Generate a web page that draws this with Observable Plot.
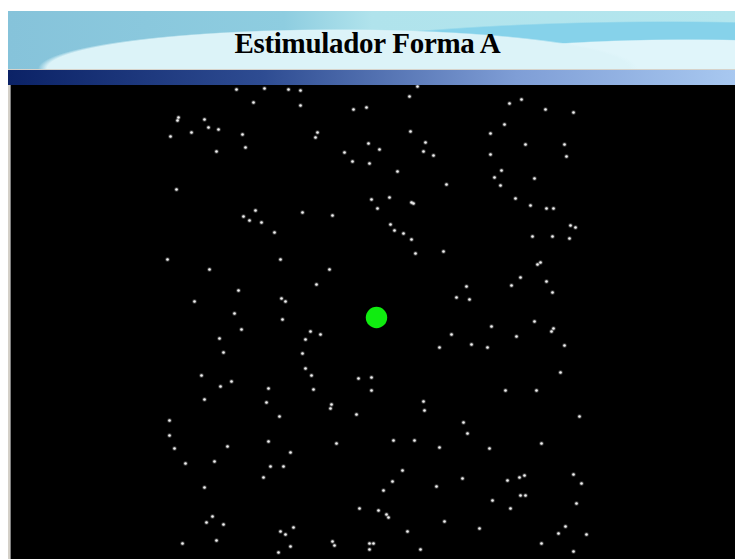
<!DOCTYPE html>
<html>
<head>
<meta charset="utf-8">
<script src="https://cdn.jsdelivr.net/npm/d3@7"></script>
<script src="https://cdn.jsdelivr.net/npm/@observablehq/plot@0.6"></script>
<style>
  html, body { margin: 0; padding: 0; background: #fff; }
  #page { position: relative; width: 735px; height: 559px; overflow: hidden; background: #fff; }
  #header {
    position: absolute; left: 8px; top: 11px; width: 727px; height: 58px;
    background:
      radial-gradient(ellipse 300px 40px at 330px 100%, #dcf3f8 0 97%, rgba(220,243,248,0) 100%),
      radial-gradient(ellipse 260px 30px at 680px 100%, #e0f5fa 0 96%, rgba(224,245,250,0) 100%),
      radial-gradient(ellipse 420px 48px at 660px 100%, #86d2ea 0 97%, rgba(134,210,234,0) 100%),
      linear-gradient(to right, #86c3da 0%, #8ecde0 38%, #b0e3ec 50%, #b4e6ee 100%);
  }
  #title {
    position: absolute; left: 0; top: 29px; width: 735px; text-align: center;
    font-family: "Liberation Serif", "Times New Roman", serif; font-weight: bold;
    font-size: 29px; line-height: 29px; color: #000; letter-spacing: -0.3px;
  }
  #titlebar {
    position: absolute; left: 8px; top: 69px; width: 727px; height: 15px;
    border-top: 1px solid #d6d2ca;
    background: linear-gradient(to right, #0b2266 0%, #2e4c92 35%, #7f9ed6 70%, #a8c8f0 100%);
  }
  #frame { position: absolute; left: 8px; top: 85px; width: 3px; height: 474px; background: #d4d0c8; border-right: 1px solid #808080; box-sizing: border-box; }
  #chart { position: absolute; left: 11px; top: 85px; width: 724px; height: 474px; background: #000; }
</style>
</head>
<body>
<div id="page">
  <div id="header"></div>
  <div id="title">Estimulador Forma A</div>
  <div id="titlebar"></div>
  <div id="frame"></div>
  <div id="chart"></div>
</div>
<script>
// Star-field stimulus: positions of the white dots (screen px)
const dotX = [
  236,264,288,300,253,300,353,366,178,177,204,208,218,191,170,242,317,315,216,245,368,379,344,352,369,397,176,371,389,377,255,243,249,261,302,332,390,394,274,280,167,
  417,409,509,521,545,573,410,504,490,425,423,433,525,564,490,566,501,494,534,500,446,411,413,515,530,546,553,570,575,403,411,532,552,569,415,443,
  209,329,316,238,194,281,285,234,282,241,219,310,320,305,223,302,305,201,311,231,220,268,313,358,371,371,204,266,331,330,
  540,537,520,466,511,546,552,456,469,534,553,551,491,516,451,471,487,439,564,560,505,536,423,424,
  356,279,169,169,174,227,268,290,336,393,185,214,270,283,263,204,392,383,359,378,386,388,212,206,223,293,280,285,182,216,332,334,369,373,369,290,278,
  579,463,467,414,439,489,541,402,462,436,507,519,524,573,581,492,520,525,510,576,444,479,407,565,558,586,541,420,573
];
const dotY = [
  89,88,89,90,102,105,109,107,117,120,119,127,129,132,136,134,132,137,151,147,143,149,152,161,163,171,189,199,197,208,210,216,220,222,212,215,224,230,232,259,259,
  86,96,103,99,109,112,131,124,133,142,151,155,144,144,154,156,170,177,178,185,184,202,203,198,205,208,208,225,227,233,239,236,236,238,253,251,
  269,269,284,290,301,298,301,313,319,329,338,331,334,339,352,353,368,375,375,381,386,388,389,378,377,390,399,402,404,408,
  262,264,277,286,285,281,292,297,299,321,328,331,326,336,334,344,347,347,345,372,390,390,401,410,
  414,416,420,435,448,446,441,452,443,440,463,461,466,466,477,487,481,490,508,510,514,517,516,522,524,527,531,534,543,540,541,545,543,543,549,546,552,
  416,422,433,440,447,448,443,470,478,486,480,477,475,474,483,500,495,495,508,503,521,528,531,526,533,534,543,549,551
];
// Fixation target (green circle)
const targetX = [376];
const targetY = [317];

const dots = dotX.map((x, i) => ({x, y: dotY[i]}));
const target = targetX.map((x, i) => ({x, y: targetY[i]}));

const chart = Plot.plot({
  width: 724,
  height: 474,
  margin: 0,
  x: {domain: [11, 735], axis: null},
  y: {domain: [85, 559], reverse: true, axis: null},
  style: {background: "#000"},
  marks: [
    Plot.dot(dots, {x: "x", y: "y", r: 2.3, fill: "#ffffff", fillOpacity: 0.25, stroke: "none"}),
    Plot.dot(dots, {x: "x", y: "y", r: 1.3, fill: "#f2f2f2", stroke: "none"}),
    Plot.dot(target, {x: "x", y: "y", r: 10.7, fill: "#10ec10", stroke: "none"})
  ]
});
document.getElementById("chart").appendChild(chart);
</script>
</body>
</html>
